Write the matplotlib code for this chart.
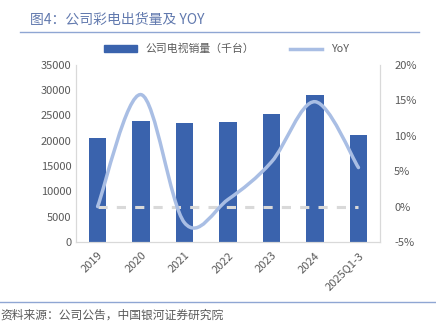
import numpy as np
import matplotlib.pyplot as plt
from matplotlib.path import Path
from matplotlib.patches import PathPatch
from matplotlib.lines import Line2D
from matplotlib.patches import Patch

plt.rcParams['font.family'] = ['Noto Sans CJK SC', 'DejaVu Sans']

years = ["2019", "2020", "2021", "2022", "2023", "2024", "2025Q1-3"]
sales = [20600, 23900, 23500, 23700, 25300, 29000, 21100]
yoy = [0.0, 15.8, -2.3, 1.0, 6.3, 14.8, 5.5]
zero_line = [0, 0, 0, 0, 0, 0, 0]

bar_color = "#3A63AD"
line_color = "#A9BEE4"
text_color = "#595959"

fig = plt.figure(figsize=(4.36, 3.31), dpi=100)
ax = fig.add_axes([0.174, 0.269, 0.698, 0.535])
ax2 = ax.twinx()

x = np.arange(len(years))
ax.bar(x, sales, width=0.4, color=bar_color, zorder=2)
ax.set_ylim(0, 35000)
ax.set_yticks(range(0, 35001, 5000))
ax.set_xlim(-0.5, len(years) - 0.5)
ax.set_xticks(x)
ax.set_xticklabels(years, rotation=45, ha="right", rotation_mode="anchor")
ax.tick_params(axis="both", length=0, labelsize=8, colors=text_color, pad=3)
ax.tick_params(axis="x", pad=6)

ax2.set_ylim(-5, 20)
ax2.set_yticks(range(-5, 21, 5))
ax2.set_yticklabels([f"{v}%" for v in range(-5, 21, 5)])
ax2.tick_params(axis="y", length=0, labelsize=8, colors=text_color, pad=10)

for a in (ax, ax2):
    a.spines["top"].set_visible(False)
    a.spines["left"].set_color("#D9D9D9")
    a.spines["right"].set_color("#D9D9D9")
    a.spines["bottom"].set_color("#D9D9D9")

# zero reference dashed line
ax2.plot(x, zero_line, color="#D9D9D9", lw=2.2, ls=(0, (3, 3)), zorder=3)

# smoothed YoY curve (Catmull-Rom -> Bezier)
pts = np.column_stack([x, yoy]).astype(float)
verts = [tuple(pts[0])]
codes = [Path.MOVETO]
n = len(pts)
for i in range(n - 1):
    p0 = pts[max(i - 1, 0)]
    p1 = pts[i]
    p2 = pts[i + 1]
    p3 = pts[min(i + 2, n - 1)]
    c1 = p1 + (p2 - p0) / 6
    c2 = p2 - (p3 - p1) / 6
    verts += [tuple(c1), tuple(c2), tuple(p2)]
    codes += [Path.CURVE4] * 3
ax2.add_patch(PathPatch(Path(verts, codes), fill=False, edgecolor=line_color,
                        lw=2.5, capstyle="round", zorder=4))

handles = [Patch(color=bar_color), Line2D([], [], color=line_color, lw=2.5)]
fig.legend(handles, ["公司电视销量（千台）", "YoY"], loc="center",
           bbox_to_anchor=(0.52, 0.852), ncol=2, frameon=False, fontsize=7.8,
           handlelength=3, handleheight=0.6, columnspacing=3.3, labelcolor=text_color)

fig.text(0.068, 0.94, "图4：公司彩电出货量及 YOY", fontsize=10, color="#6179AE",
         ha="left", va="center")
fig.add_artist(Line2D([0.046, 0.96], [0.904, 0.904], color="#8FA6D3", lw=1))
fig.add_artist(Line2D([0.0, 1.0], [0.088, 0.088], color="#8FA6D3", lw=1))
fig.text(0.0, 0.048, "资料来源：公司公告，中国银河证券研究院", fontsize=8.5,
         color=text_color, ha="left", va="center", style="italic")

fig.savefig("out.png", dpi=100)
